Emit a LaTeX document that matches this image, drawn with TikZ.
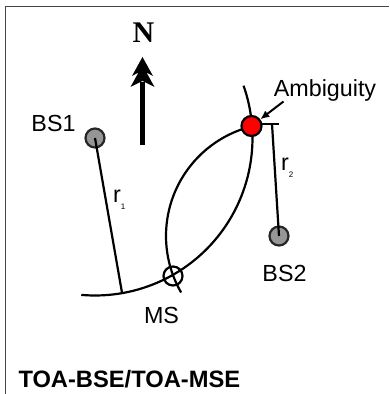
\documentclass[tikz,border=0pt]{standalone}
\usepackage{fontspec}
\setmainfont{Liberation Sans}
\newfontfamily\serifN{Liberation Serif}
\usetikzlibrary{calc,arrows.meta}
\definecolor{bsgray}{RGB}{150,150,150}
\definecolor{framegray}{RGB}{70,70,70}
\tikzset{
  curve/.style={line width=2.2pt, black},
  bsnode/.style={circle, draw=black!85, line width=2.2pt, fill=bsgray, minimum size=19pt, inner sep=0pt},
  ambnode/.style={circle, draw=black, line width=2.2pt, fill=red, minimum size=20pt, inner sep=0pt},
  msnode/.style={circle, draw=black, line width=2.2pt, minimum size=19pt, inner sep=0pt},
  lbl/.style={font=\fontsize{23.3}{23.3}\selectfont, inner sep=0pt, anchor=base},
  rlbl/.style={font=\fontsize{23.3}{23.3}\selectfont, inner sep=0pt, anchor=base west},
}
\newcommand{\subdig}[1]{\raisebox{-7pt}{\fontsize{8}{8}\selectfont #1}}
\begin{document}
\begin{tikzpicture}[x=1pt,y=1pt]
\useasboundingbox (0,0) rectangle (389,394);
% frame
\coordinate (fbl) at (5.5,0);
\coordinate (ftl) at (5.5,387);
\coordinate (ftr) at (389,387);
\draw[framegray, line width=1pt] (fbl) -- (ftl) -- (ftr);

% base stations
\node[bsnode] (bs1) at (95,256) {};
\node[bsnode] (bs2) at (279,158) {};

% range arcs
\draw[curve] ($(bs1.center)+(-95:157.5)$) arc[start angle=-95, end angle=19.4, radius=157.5];
\draw[curve] ($(bs2.center)+(210:113)$) arc[start angle=210, end angle=104.3, radius=113];

% MS and ambiguity
\node[msnode] (ms) at (173,118) {};
\node[ambnode] (amb) at (251.5,268) {};

% r1 radius line
\coordinate (r1end) at ($(bs1.center)+(-80.1:157.5)$);
\draw[curve] (bs1.center) -- (r1end);

% r2 radius line with tick
\coordinate (r2top) at (272,270);
\coordinate (tickL) at (262,270);
\coordinate (tickR) at (279,270);
\draw[curve] (tickL) -- (tickR);
\draw[curve] (r2top) -- (bs2.center);

% ambiguity pointer
\coordinate (ambtail) at (283.5,292.5);
\draw[line width=2pt, -{Latex[length=9pt,width=8pt]}] (ambtail) -- (amb);

% north arrow
\coordinate (nbot) at (142.5,249);
\coordinate (ntop) at (142.5,312);
\draw[line width=5.5pt] (nbot) -- (ntop);
\fill (142.5,337) -- (153,318) -- (146.5,321.5) -- (154.5,307) -- (142.5,313) -- (130.5,307) -- (138.5,321.5) -- (132,318) -- cycle;
\node[inner sep=0pt, anchor=base, font=\serifN\bfseries\fontsize{30}{30}\selectfont] (nlbl) at (143.5,351) {N};

% labels
\node[lbl] (bs1lbl) at (53.5,262.3) {BS1};
\node[lbl] (bs2lbl) at (284.5,112.3) {BS2};
\node[lbl] (mslbl) at (161.5,70) {MS};
\node[lbl] (amblbl) at (325,297.3) {Ambiguity};
\node[rlbl] (r1lbl) at (113,191.3) {r\subdig{1}};
\node[rlbl] (r2lbl) at (281,223) {r\subdig{2}};
\node[inner sep=0pt, anchor=base west, font=\bfseries\fontsize{23.7}{23.7}\selectfont] (title) at (18.3,6) {TOA-BSE/TOA-MSE};
\end{tikzpicture}
\end{document}
